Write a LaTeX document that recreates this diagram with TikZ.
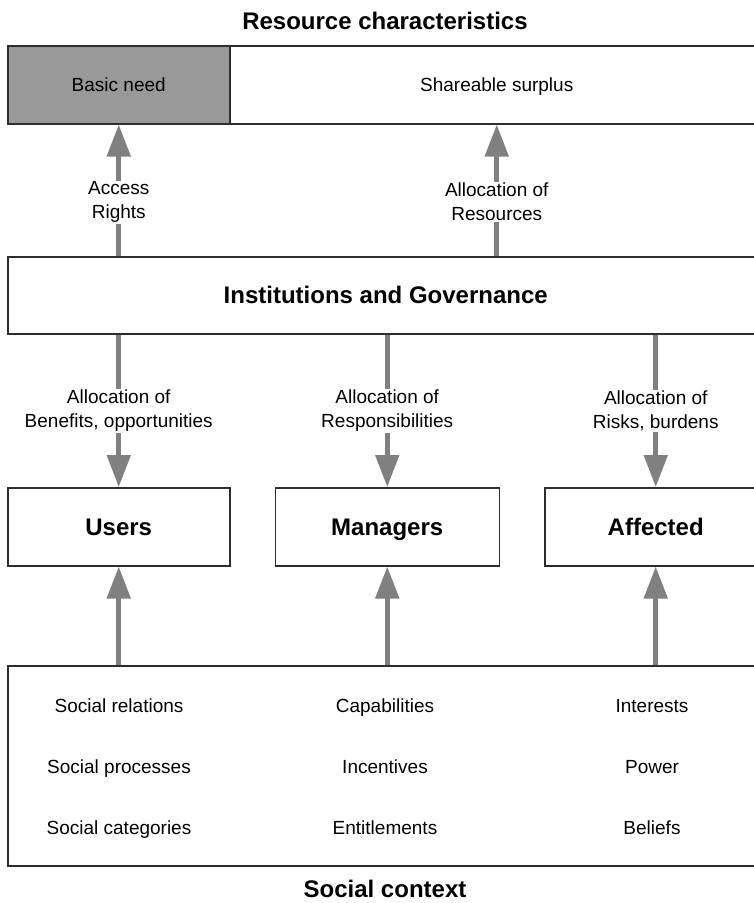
\documentclass[tikz,border=0pt]{standalone}
\usepackage{fontspec}
\setmainfont{Liberation Sans}
\usepackage{tikz}
\usetikzlibrary{positioning,arrows.meta}
\definecolor{flowCol}{RGB}{128,128,128}
\definecolor{needCol}{RGB}{153,153,153}
\definecolor{lineCol}{RGB}{45,45,45}
\tikzset{myBox/.style={draw=lineCol, line width=1.5pt, inner sep=0pt}}
\tikzset{myFlow/.style={draw=flowCol, line width=5pt, -{Triangle[length=32pt,width=23pt]}}}
\tikzset{myText/.style={font=\fontsize{19}{24}\selectfont}}
\tikzset{myLabel/.style={myText, fill=white, align=center, inner sep=1pt}}
\tikzset{myTitle/.style={font=\bfseries\fontsize{24}{28}\selectfont}}
\tikzset{boxText/.style={myText, text height=14pt, text depth=0pt}}
\tikzset{boxTitle/.style={myTitle, text height=17pt, text depth=0pt}}

\begin{document}
\begin{tikzpicture}[x=1pt, y=-1pt]

	\useasboundingbox (0,0) rectangle (754,903);
	\clip (0,0) rectangle (754,903);

	% resource characteristics
	\node[myTitle] (resTitle) at (385,21) {Resource characteristics};
	\node[myBox, boxText, fill=needCol, minimum width=222pt, minimum height=78pt, anchor=north west] (need) at (7,45) {Basic need};
	\node[myBox, boxText, minimum width=534pt, minimum height=78pt, anchor=north west] (surplus) at (229,45) {Shareable surplus};

	% institutions
	\node[myBox, boxTitle, minimum width=756pt, minimum height=77pt, anchor=north west] (inst) at (7,256) {Institutions and Governance};

	% actors
	\node[myBox, boxTitle, minimum width=222pt, minimum height=78pt, anchor=north west] (users) at (7,487) {Users};
	\node[myBox, boxTitle, minimum width=224pt, minimum height=78pt, right=44pt of users] (managers) {Managers};
	\node[myBox, boxTitle, minimum width=222pt, minimum height=78pt, right=44pt of managers] (affected) {Affected};

	% social context
	\node[myBox, minimum width=756pt, minimum height=200pt, anchor=north west] (social) at (7,665) {};
	\foreach \a/\b/\c [count=\i] in {Social relations/Capabilities/Interests, Social processes/Incentives/Power, Social categories/Entitlements/Beliefs}{
		\node[myText, anchor=base] (ctxA\i) at (119,651+61*\i) {\a};
		\node[myText, anchor=base] (ctxB\i) at (385,651+61*\i) {\b};
		\node[myText, anchor=base] (ctxC\i) at (652,651+61*\i) {\c};
	}
	\node[myTitle, anchor=base] (ctxTitle) at (385,897) {Social context};

	% arrows
	\draw[myFlow] (inst.north -| need) -- node[myLabel, pos=0.41] (accessLbl) {Access\\Rights} (need.south);
	\draw[myFlow] (inst.north -| surplus) -- node[myLabel, pos=0.41] (resLbl) {Allocation of\\Resources} (surplus.south);
	\foreach \tgt/\lbl in {users/{Benefits, opportunities}, managers/Responsibilities, affected/{Risks, burdens}}{
		\draw[myFlow] (inst.south -| \tgt) -- node[myLabel] (\tgt Lbl) {Allocation of\\\lbl} (\tgt.north);
		\draw[myFlow] (social.north -| \tgt) -- (\tgt.south);
	}
\end{tikzpicture}
\end{document}
